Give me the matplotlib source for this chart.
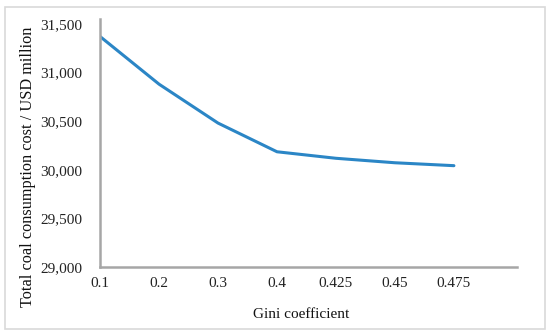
import matplotlib
matplotlib.use("Agg")
import matplotlib.pyplot as plt
from matplotlib.patches import Rectangle

# Gini coefficient scenarios and total coal consumption cost (USD million)
gini_labels = ["0.1", "0.2", "0.3", "0.4", "0.425", "0.45", "0.475"]
cost = [31370, 30880, 30480, 30185, 30118, 30072, 30042]
y_ticks = [29000, 29500, 30000, 30500, 31000, 31500]

plt.rcParams["font.family"] = ["Liberation Serif", "DejaVu Serif"]

fig = plt.figure(figsize=(5.5, 3.34), dpi=100)
ax = fig.add_axes([0.182, 0.2006, 0.758, 0.7424])

x = list(range(len(gini_labels)))
ax.plot(x, cost, color="#2b86c6", linewidth=2.2, solid_capstyle="round")

ax.set_xlim(0, 7.07)
ax.set_ylim(29000, 31550)
ax.set_xticks(x)
ax.set_xticklabels(gini_labels, fontsize=11)
ax.set_yticks(y_ticks)
ax.set_yticklabels([f"{v:,}" for v in y_ticks], fontsize=11)
ax.tick_params(axis="both", length=0, colors="#222222")
ax.tick_params(axis="y", pad=13)
ax.tick_params(axis="x", pad=7)

for side in ["top", "right"]:
    ax.spines[side].set_visible(False)
for side in ["left", "bottom"]:
    ax.spines[side].set_color("#a6a6a6")
    ax.spines[side].set_linewidth(1.8)

# axis titles placed like the original chart
fig.text(301 / 550, 1 - 314 / 334, "Gini coefficient", fontsize=11,
         ha="center", va="center", color="#111111")
fig.text(28 / 550, 1 - 167 / 334, "Total coal consumption cost / USD million",
         fontsize=11.7, rotation=90, ha="center", va="center", color="#111111")

# outer chart frame
fig.patches.append(Rectangle((5 / 550, 5 / 334), 540 / 550, 322 / 334,
                             transform=fig.transFigure, fill=False,
                             edgecolor="#d9d9d9", linewidth=1.2))

fig.savefig("out.png", dpi=100)
